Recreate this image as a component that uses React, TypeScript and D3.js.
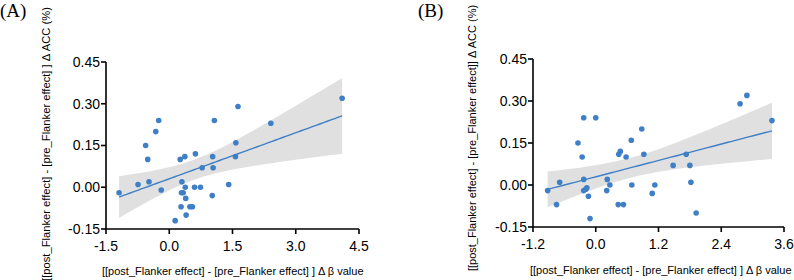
import * as d3 from 'd3';

// panel A: Δ β value vs Δ ACC
const xA = [-1.19, -0.74, -0.56, -0.51, -0.48, -0.32, -0.25, -0.19, 0.14, 0.26, 0.28, 0.30, 0.29, 0.33, 0.37, 0.38, 0.39, 0.40, 0.49, 0.55, 0.60, 0.62, 0.74, 0.78, 1.02, 1.03, 1.04, 1.07, 1.41, 1.57, 1.58, 1.63, 2.41, 4.10];
const yA = [-0.02, 0.01, 0.15, 0.10, 0.02, 0.20, 0.24, -0.01, -0.12, 0.10, -0.07, 0.02, -0.02, -0.02, 0.11, 0.00, -0.04, -0.10, -0.07, -0.07, 0.00, 0.12, 0.00, 0.07, -0.03, 0.11, 0.07, 0.24, 0.01, 0.11, 0.16, 0.29, 0.23, 0.32];

// panel B
const xB = [-0.92, -0.75, -0.69, -0.34, -0.26, -0.23, -0.23, -0.23, -0.19, -0.17, -0.14, -0.11, 0.00, 0.21, 0.22, 0.27, 0.43, 0.44, 0.47, 0.53, 0.58, 0.68, 0.69, 0.88, 0.92, 1.08, 1.13, 1.48, 1.73, 1.80, 1.82, 1.92, 2.76, 2.89, 3.37];
const yB = [-0.02, -0.07, 0.01, 0.15, 0.10, 0.24, 0.02, -0.02, -0.015, -0.01, -0.04, -0.12, 0.24, -0.02, 0.02, 0.00, -0.07, 0.11, 0.12, -0.07, 0.10, 0.16, 0.00, 0.20, 0.11, -0.03, 0.00, 0.07, 0.11, 0.07, 0.01, -0.10, 0.29, 0.32, 0.23];

const yTicks = [-0.15, 0, 0.15, 0.30, 0.45];
const xTicksA = [-1.5, 0, 1.5, 3.0, 4.5];
const xTicksB = [-1.2, 0, 1.2, 2.4, 3.6];

const blue = '#3f7fc6';
const sans = '"Liberation Sans", Arial, sans-serif';

function fitBand(xs: number[], ys: number[]) {
  const n = xs.length;
  const mx = d3.mean(xs)!;
  const my = d3.mean(ys)!;
  const sxx = d3.sum(xs, (x) => (x - mx) ** 2);
  const sxy = d3.sum(xs, (x, i) => (x - mx) * (ys[i] - my));
  const b = sxy / sxx;
  const a = my - b * mx;
  const sse = d3.sum(xs, (x, i) => (ys[i] - (a + b * x)) ** 2);
  const s = Math.sqrt(sse / (n - 2));
  const t = 2.035;
  const [lo, hi] = d3.extent(xs) as [number, number];
  const pts = d3.range(0, 61).map((k) => {
    const x = lo + ((hi - lo) * k) / 60;
    const yhat = a + b * x;
    const se = s * Math.sqrt(1 / n + (x - mx) ** 2 / sxx);
    return { x, yhat, y0: yhat - t * se, y1: yhat + t * se };
  });
  return pts;
}

type PanelProps = {
  xs: number[];
  ys: number[];
  xTicks: number[];
  left: number;
  right: number;
  top: number;
  bottom: number;
  label: string;
  labelX: number;
  yTitle: string;
  yTitleX: number;
  yTitleY: number;
  xTitleX: number;
  xTitleY: number;
  yTitleSize: number;
};

function Panel(p: PanelProps) {
  const x = d3.scaleLinear().domain([p.xTicks[0], p.xTicks[p.xTicks.length - 1]]).range([p.left, p.right]);
  const y = d3.scaleLinear().domain([-0.15, 0.45]).range([p.bottom, p.top]);
  const band = fitBand(p.xs, p.ys);
  const area = d3.area<any>().x((d) => x(d.x)).y0((d) => y(d.y0)).y1((d) => y(d.y1));
  const line = d3.line<any>().x((d) => x(d.x)).y((d) => y(d.yhat));

  return (
    <g>
      <text x={p.labelX} y={17} fontFamily='"Liberation Serif", "Times New Roman", serif' fontSize={19}>
        {p.label}
      </text>
      <path d={area(band)!} fill="#e0e0e0" />
      <path d={line(band)!} fill="none" stroke={blue} strokeWidth={1.4} />
      {p.xs.map((v, i) => (
        <circle key={i} cx={x(v)} cy={y(p.ys[i])} r={2.8} fill={blue} />
      ))}
      {/* y axis */}
      <line x1={p.left} x2={p.left} y1={p.top} y2={p.bottom} stroke="#000" strokeWidth={1.6} />
      {yTicks.map((t) => (
        <g key={t}>
          <line x1={p.left - 5} x2={p.left} y1={y(t)} y2={y(t)} stroke="#000" strokeWidth={1.6} />
          <text x={p.left - 6} y={y(t)} dy="0.35em" textAnchor="end" fontFamily={sans} fontSize={14}>
            {t.toFixed(2)}
          </text>
        </g>
      ))}
      {/* x axis */}
      <line x1={p.left} x2={p.right} y1={p.bottom} y2={p.bottom} stroke="#000" strokeWidth={1.6} />
      {p.xTicks.map((t) => (
        <g key={t}>
          <line x1={x(t)} x2={x(t)} y1={p.bottom} y2={p.bottom + 5} stroke="#000" strokeWidth={1.6} />
          <text x={x(t)} y={p.bottom + 22} textAnchor="middle" fontFamily={sans} fontSize={14}>
            {t.toFixed(1)}
          </text>
        </g>
      ))}
      <text x={p.xTitleX} y={p.xTitleY} fontFamily={sans} fontSize={11}>
        [[post_Flanker effect] - [pre_Flanker effect] ] Δ β value
      </text>
      <text
        transform={`translate(${p.yTitleX},${p.yTitleY}) rotate(-90)`}
        textAnchor="middle"
        dy="0.35em"
        fontFamily={sans}
        fontSize={p.yTitleSize}
      >
        {p.yTitle}
      </text>
    </g>
  );
}

export default function App() {
  return (
    <svg width={794} height={280} style={{ position: 'absolute', left: 0, top: 0, background: '#fff' }}>
      <Panel
        xs={xA}
        ys={yA}
        xTicks={xTicksA}
        left={106}
        right={359}
        top={62}
        bottom={229}
        label="(A)"
        labelX={0}
        yTitle="[[post_Flanker effect] - [pre_Flanker effect] ] Δ ACC (%)"
        yTitleX={46}
        yTitleY={144}
        xTitleX={102}
        xTitleY={275}
        yTitleSize={11.2}
      />
      <Panel
        xs={xB}
        ys={yB}
        xTicks={xTicksB}
        left={533}
        right={784}
        top={59}
        bottom={227}
        label="(B)"
        labelX={418}
        yTitle="[[post_Flanker effect] - [pre_Flanker effect]] Δ ACC (%)"
        yTitleX={472}
        yTitleY={138}
        xTitleX={530}
        xTitleY={274}
        yTitleSize={11}
      />
    </svg>
  );
}
